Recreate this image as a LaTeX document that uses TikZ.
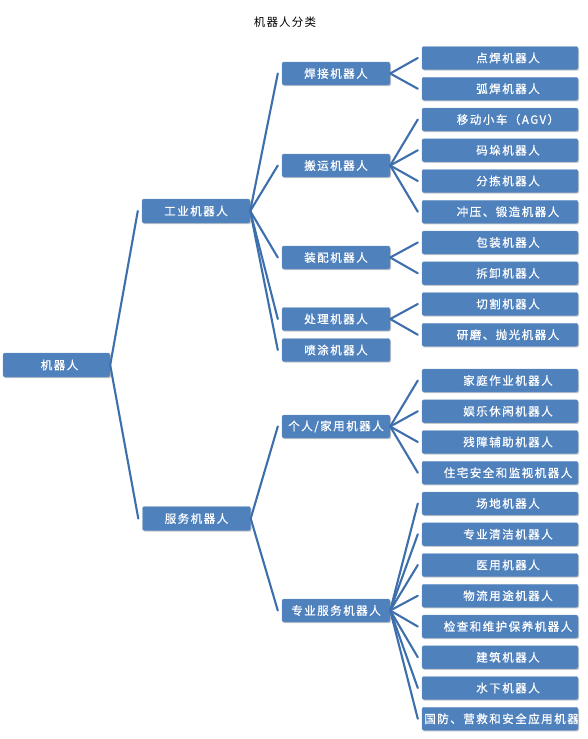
\documentclass[tikz,border=0pt]{standalone}
\usepackage{fontspec}
\newfontfamily\cjk[LetterSpace=13,FakeBold=0.8]{Noto Sans CJK SC}
\newfontfamily\cjktitle[LetterSpace=10]{Noto Sans CJK SC}
\usetikzlibrary{shadows}
\definecolor{boxblue}{HTML}{4F81BD}
\definecolor{lineblue}{HTML}{3E6FAD}
\tikzset{
  box/.style={fill=boxblue, draw=boxblue!85!white, line width=0.4pt, rounded corners=2pt,
    minimum height=23pt, inner sep=0pt, text=white,
    font=\cjk\fontsize{11.5}{13}\selectfont,
    drop shadow={shadow xshift=1pt, shadow yshift=-1.2pt, opacity=0.22, fill=black}},
  rootbox/.style={box, minimum width=107pt, minimum height=24pt},
  midbox/.style={box, minimum width=108pt, minimum height=24pt},
  subbox/.style={box, minimum width=108pt},
  leafbox/.style={box, minimum width=156pt,
    path picture={\node[text=white, inner sep=0pt, font=\cjk\fontsize{11.5}{13}\selectfont]
      at ([xshift=8pt]path picture bounding box.center) {#1};}},
  conn/.style={draw=lineblue, line width=2.1pt, line cap=round}
}
\begin{document}
\begin{tikzpicture}[x=1pt,y=-1pt]
\useasboundingbox (0,0) rectangle (588,739);
\node[font=\cjktitle\fontsize{11.5}{13}\selectfont] (title) at (285,22) {机器人分类};

\node[rootbox] (root) at (56.5,365) {\hspace*{6pt}机器人};

\node[midbox] (ind) at (196,211) {工业机器人};
\node[midbox] (svc) at (196.5,518.5) {服务机器人};

\node[subbox] (weld) at (336,73.5) {焊接机器人};
\node[subbox] (carry) at (336,165.5) {搬运机器人};
\node[subbox] (asm) at (336,257.5) {装配机器人};
\node[subbox] (proc) at (336,319) {处理机器人};
\node[subbox] (spray) at (336,350) {喷涂机器人};
\node[subbox] (pers) at (336,426.5) {个人/家用机器人};
\node[subbox] (prof) at (336,610.5) {专业服务机器人};

\node[leafbox=点焊机器人] (a1) at (500,58) {};
\node[leafbox=弧焊机器人] (a2) at (500,88.75) {};
\node[leafbox=移动小车（AGV）] (a3) at (500,119.5) {};
\node[leafbox=码垛机器人] (a4) at (500,150.25) {};
\node[leafbox=分拣机器人] (a5) at (500,181) {};
\node[leafbox=冲压、锻造机器人] (a6) at (500,211.75) {};
\node[leafbox=包装机器人] (a7) at (500,242.5) {};
\node[leafbox=拆卸机器人] (a8) at (500,273.25) {};
\node[leafbox=切割机器人] (a9) at (500,304) {};
\node[leafbox=研磨、抛光机器人] (a10) at (500,334.75) {};

\node[leafbox=家庭作业机器人] (b1) at (500,380.5) {};
\node[leafbox=娱乐休闲机器人] (b2) at (500,411.25) {};
\node[leafbox=残障辅助机器人] (b3) at (500,442) {};
\node[leafbox=住宅安全和监视机器人] (b4) at (500,472.75) {};
\node[leafbox=场地机器人] (b5) at (500,503.5) {};
\node[leafbox=专业清洁机器人] (b6) at (500,534.25) {};
\node[leafbox=医用机器人] (b7) at (500,565) {};
\node[leafbox=物流用途机器人] (b8) at (500,595.75) {};
\node[leafbox=检查和维护保养机器人] (b9) at (500,626.5) {};
\node[leafbox=建筑机器人] (b10) at (500,657.25) {};
\node[leafbox=水下机器人] (b11) at (500,688) {};
\node[leafbox=国防、营救和安全应用机器人] (b12) at (500,718.75) {};

\foreach \c in {ind,svc} \draw[conn] (root.east) -- ([xshift=-4pt]\c.west);
\foreach \c in {weld,carry,asm,proc,spray} \draw[conn] (ind.east) -- ([xshift=-4pt]\c.west);
\foreach \c in {pers,prof} \draw[conn] (svc.east) -- ([xshift=-4pt]\c.west);
\foreach \c in {a1,a2} \draw[conn] (weld.east) -- ([xshift=-4pt]\c.west);
\foreach \c in {a3,a4,a5,a6} \draw[conn] (carry.east) -- ([xshift=-4pt]\c.west);
\foreach \c in {a7,a8} \draw[conn] (asm.east) -- ([xshift=-4pt]\c.west);
\foreach \c in {a9,a10} \draw[conn] (proc.east) -- ([xshift=-4pt]\c.west);
\foreach \c in {b1,b2,b3,b4} \draw[conn] (pers.east) -- ([xshift=-4pt]\c.west);
\foreach \c in {b5,b6,b7,b8,b9,b10,b11,b12} \draw[conn] (prof.east) -- ([xshift=-4pt]\c.west);
\end{tikzpicture}
\end{document}
